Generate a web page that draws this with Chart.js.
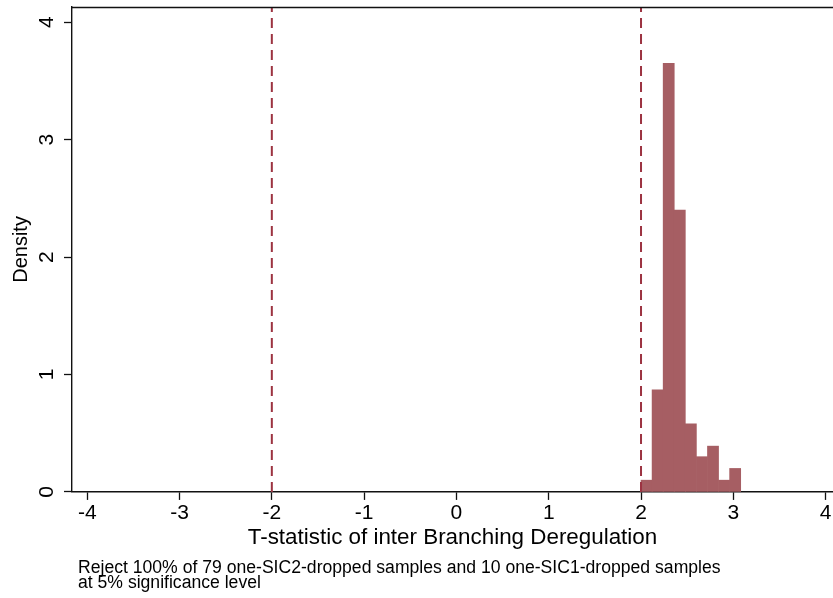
<!DOCTYPE html>
<html><head><meta charset="utf-8">
<script src="https://cdn.jsdelivr.net/npm/chart.js@4/dist/chart.umd.min.js"></script>
<style>html,body{margin:0;padding:0;background:#fff}#wrap{width:833px;height:598px;position:relative}</style>
</head><body><div id="wrap"><canvas id="c"></canvas></div>
<script>
// ---- data ----
const binCenters = [2.06, 2.18, 2.30, 2.42, 2.54, 2.66, 2.78, 2.90, 3.02];
const densities  = [0.10, 0.87, 3.65, 2.40, 0.58, 0.30, 0.39, 0.10, 0.20];
const refLines   = [-2, 2];
const xTickValues = [-4, -3, -2, -1, 0, 1, 2, 3, 4];
const yTickValues = [0, 1, 2, 3, 4];
const X_MIN = -4.165, X_MAX = 4.08;
const Y_MIN = 0, Y_MAX = 4.13;
const xTitle = 'T-statistic of inter Branching Deregulation';
const yTitle = 'Density';
const noteLines = [
  'Reject 100% of 79 one-SIC2-dropped samples and 10 one-SIC1-dropped samples',
  'at 5% significance level'
];

// ---- styles ----
const FONT = '"Liberation Sans", Arial, Helvetica, sans-serif';
const BAR_COLOR = '#a65e63';
const REF_COLOR = '#9c3341';
const AXIS_COLOR = '#111';

const datasets = [{
  type: 'bar',
  data: binCenters.map((x, i) => ({x: x, y: densities[i]})),
  backgroundColor: BAR_COLOR,
  borderWidth: 0,
  barPercentage: 1.0,
  categoryPercentage: 1.0,
  order: 2
}].concat(refLines.map(v => ({
  type: 'line',
  data: [{x: v, y: Y_MIN}, {x: v, y: Y_MAX}],
  borderColor: REF_COLOR,
  borderWidth: 2,
  borderDash: [10, 6],
  pointRadius: 0,
  fill: false,
  order: 1
})));

const extras = {
  id: 'extras',
  afterDraw(chart) {
    const ctx = chart.ctx;
    const a = chart.chartArea;
    const ys = chart.scales.y;
    ctx.save();
    // top border of plot region
    ctx.strokeStyle = AXIS_COLOR;
    ctx.lineWidth = 1.4;
    ctx.beginPath();
    ctx.moveTo(a.left, a.top + 0.5);
    ctx.lineTo(a.right, a.top + 0.5);
    ctx.stroke();
    // rotated y tick labels
    ctx.fillStyle = '#000';
    ctx.font = '21px ' + FONT;
    ctx.textAlign = 'center';
    ctx.textBaseline = 'middle';
    yTickValues.forEach(v => {
      const py = ys.getPixelForValue(v);
      ctx.save();
      ctx.translate(47, py);
      ctx.rotate(-Math.PI / 2);
      ctx.fillText(String(v), 0, 0);
      ctx.restore();
    });
    // note
    ctx.font = '17.6px ' + FONT;
    ctx.textAlign = 'left';
    ctx.textBaseline = 'alphabetic';
    ctx.fillText(noteLines[0], 78, 573);
    ctx.fillText(noteLines[1], 78, 587.5);
    ctx.restore();
  }
};

new Chart(document.getElementById('c'), {
  type: 'bar',
  data: { datasets },
  options: {
    responsive: true,
    maintainAspectRatio: false,
    animation: false,
    events: [],
    layout: { padding: { top: 7, right: 0, bottom: 43, left: 0 } },
    plugins: { legend: { display: false }, tooltip: { enabled: false }, title: { display: false } },
    scales: {
      x: {
        type: 'linear',
        offset: false,
        min: X_MIN, max: X_MAX,
        afterBuildTicks: s => { s.ticks = xTickValues.map(v => ({value: v})); },
        ticks: { color: '#000', font: { family: FONT, size: 21 }, padding: 1, maxRotation: 0, autoSkip: false, callback: v => String(v) },
        grid: { offset: false, drawOnChartArea: false, drawTicks: true, tickLength: 8, tickColor: AXIS_COLOR, tickWidth: 1.3 },
        border: { display: true, color: AXIS_COLOR, width: 1.4 },
        title: { display: true, text: xTitle, color: '#000', font: { family: FONT, size: 22.4 }, padding: { top: -3, bottom: 4 } }
      },
      y: {
        min: Y_MIN, max: Y_MAX,
        afterBuildTicks: s => { s.ticks = yTickValues.map(v => ({value: v})); },
        ticks: { display: false },
        afterFit: s => { s.width = 72; },
        grid: { drawOnChartArea: false, drawTicks: true, tickLength: 8, tickColor: AXIS_COLOR, tickWidth: 1.3 },
        border: { display: true, color: AXIS_COLOR, width: 1.4 },
        title: { display: true, text: yTitle, color: '#000', font: { family: FONT, size: 20 }, padding: { top: 9, bottom: 0 } }
      }
    }
  },
  plugins: [extras]
});
</script>
</body></html>
